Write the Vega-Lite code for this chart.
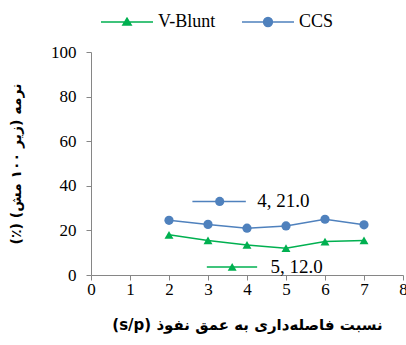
{
  "$schema": "https://vega.github.io/schema/vega-lite/v6.json",
  "autosize": {"type": "none"},
  "width": 312,
  "height": 223,
  "padding": {"left": 91, "top": 52, "right": 3, "bottom": 70},
  "background": "white",
  "config": {"view": {"stroke": null}},
  "datasets": {
    "main": [
      {"series": "V-Blunt", "sp": 2, "value": 18.0},
      {"series": "V-Blunt", "sp": 3, "value": 15.5},
      {"series": "V-Blunt", "sp": 4, "value": 13.5},
      {"series": "V-Blunt", "sp": 5, "value": 12.0},
      {"series": "V-Blunt", "sp": 6, "value": 15.0},
      {"series": "V-Blunt", "sp": 7, "value": 15.5},
      {"series": "CCS", "sp": 2, "value": 24.5},
      {"series": "CCS", "sp": 3, "value": 22.7},
      {"series": "CCS", "sp": 4, "value": 21.0},
      {"series": "CCS", "sp": 5, "value": 22.0},
      {"series": "CCS", "sp": 6, "value": 25.0},
      {"series": "CCS", "sp": 7, "value": 22.5}
    ],
    "keylines": [
      {"series": "CCS", "sp": 2.6, "sp2": 3.97, "value": 33},
      {"series": "V-Blunt", "sp": 2.97, "sp2": 4.26, "value": 3.6}
    ],
    "keypoints": [
      {"series": "CCS", "sp": 3.3, "value": 33},
      {"series": "V-Blunt", "sp": 3.62, "value": 3.6}
    ],
    "labeltexts": [
      {"series": "CCS", "sp": 4.26, "value": 33, "text": "4, 21.0"},
      {"series": "V-Blunt", "sp": 4.6, "value": 3.6, "text": "5, 12.0"}
    ]
  },
  "encoding": {
    "x": {
      "field": "sp", "type": "quantitative",
      "scale": {"domain": [0, 8], "nice": false, "zero": false},
      "axis": {
        "values": [0, 1, 2, 3, 4, 5, 6, 7, 8],
        "title": "\u202bنسبت فاصله‌داری به عمق نفوذ (s/p)\u202c",
        "titleFont": "DejaVu Sans", "titleFontWeight": "bold", "titleFontSize": 15, "titleColor": "#000000",
        "titlePadding": 20,
        "labelFont": "Liberation Serif", "labelFontSize": 17, "labelColor": "#000000",
        "labelPadding": 1, "labelFlush": false, "labelOverlap": false,
        "domainColor": "#868686", "tickColor": "#868686", "tickSize": 5, "domainWidth": 1, "grid": false
      }
    },
    "y": {
      "field": "value", "type": "quantitative",
      "scale": {"domain": [0, 100], "nice": false},
      "axis": {
        "values": [0, 20, 40, 60, 80, 100],
        "title": "\u202bنرمه (زیر ۱۰۰ مش) (٪)\u202c",
        "titleFont": "DejaVu Sans", "titleFontWeight": "bold", "titleFontSize": 14, "titleColor": "#000000",
        "titlePadding": 27,
        "labelFont": "Liberation Serif", "labelFontSize": 17, "labelColor": "#000000",
        "labelPadding": 10, "labelFlush": false, "labelOverlap": false,
        "domainColor": "#868686", "tickColor": "#868686", "tickSize": 5, "grid": false
      }
    }
  },
  "layer": [
    {
      "data": {"name": "main"},
      "mark": {"type": "line", "strokeWidth": 1.5},
      "encoding": {
        "color": {
          "field": "series", "type": "nominal",
          "scale": {"domain": ["V-Blunt", "CCS"], "range": ["#00B050", "#4F81BD"]},
          "legend": {
            "orient": "none", "legendX": 9, "legendY": -57, "direction": "horizontal",
            "title": null, "padding": 0,
            "labelFont": "Liberation Serif", "labelFontSize": 18, "labelColor": "#000000",
            "labelOffset": 4, "columnPadding": 23,
            "symbolSize": 2704, "symbolStrokeWidth": 1.5,
            "encode": {
              "symbols": {
                "update": {
                  "shape": {"signal": "datum.value === 'CCS' ? 'M-1,0L1,0M0.17,0A0.17,0.17,0,1,1,-0.17,0A0.17,0.17,0,1,1,0.17,0Z' : 'M-1,0L1,0M-0.16,0.12L0,-0.15L0.16,0.12Z'"},
                  "fill": {"signal": "datum.value === 'CCS' ? '#4F81BD' : '#00B050'"},
                  "stroke": {"signal": "datum.value === 'CCS' ? '#4F81BD' : '#00B050'"},
                  "opacity": {"value": 1},
                  "strokeWidth": {"value": 1.5}
                }
              }
            }
          }
        }
      }
    },
    {
      "data": {"name": "main"},
      "transform": [{"filter": "datum.series === 'CCS'"}],
      "mark": {"type": "point", "shape": "circle", "filled": true, "size": 85, "opacity": 1, "color": "#4F81BD"}
    },
    {
      "data": {"name": "main"},
      "transform": [{"filter": "datum.series === 'V-Blunt'"}],
      "mark": {"type": "point", "shape": "triangle-up", "filled": true, "size": 80, "opacity": 1, "color": "#00B050"}
    },
    {
      "data": {"name": "keylines"},
      "mark": {"type": "rule", "strokeWidth": 1.5},
      "encoding": {
        "x2": {"field": "sp2"},
        "color": {"field": "series", "type": "nominal", "legend": null}
      }
    },
    {
      "data": {"name": "keypoints"},
      "transform": [{"filter": "datum.series === 'CCS'"}],
      "mark": {"type": "point", "shape": "circle", "filled": true, "size": 85, "opacity": 1, "color": "#4F81BD"}
    },
    {
      "data": {"name": "keypoints"},
      "transform": [{"filter": "datum.series === 'V-Blunt'"}],
      "mark": {"type": "point", "shape": "triangle-up", "filled": true, "size": 80, "opacity": 1, "color": "#00B050"}
    },
    {
      "data": {"name": "labeltexts"},
      "mark": {"type": "text", "align": "left", "baseline": "middle", "font": "Liberation Serif", "fontSize": 19, "color": "#000000"},
      "encoding": {
        "text": {"field": "text"}
      }
    }
  ]
}
